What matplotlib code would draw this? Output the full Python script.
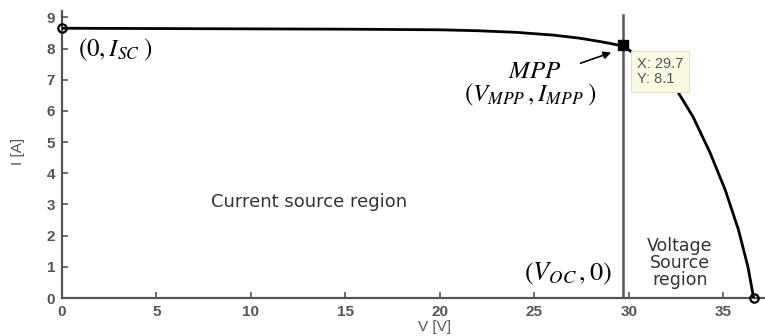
import matplotlib
matplotlib.use("Agg")
import matplotlib.pyplot as plt

# Data
V = [0, 5, 10, 15, 20, 22, 24, 26, 27.4, 28.5, 29.7, 30.6, 31.6, 32.6, 33.4, 34.3, 35.1, 35.8, 36.3, 36.6]
I = [8.65, 8.64, 8.63, 8.62, 8.6, 8.57, 8.52, 8.43, 8.33, 8.22, 8.08, 7.7, 7.2, 6.6, 5.8, 4.65, 3.46, 2.18, 0.99, 0.0]
V_mpp, I_mpp = 29.7, 8.1
I_sc = 8.65
V_oc = 36.6
xticks = [0, 5, 10, 15, 20, 25, 30, 35]
yticks = [0, 1, 2, 3, 4, 5, 6, 7, 8, 9]

plt.rcParams['mathtext.fontset'] = 'stix'
plt.rcParams['font.family'] = ['Liberation Sans', 'DejaVu Sans']

fig = plt.figure(figsize=(7.65, 3.36), dpi=100)
ax = fig.add_axes([0.081, 0.113, 0.919, 0.854])

ax.plot(V, I, color='black', lw=2.0, zorder=3)
ax.plot([0], [I_sc], 'o', ms=6, mfc='none', mec='black', mew=1.6, zorder=4, clip_on=False)
ax.plot([V_oc], [0], 'o', ms=6, mfc='none', mec='black', mew=1.6, zorder=4, clip_on=False)
ax.plot([V_mpp, V_mpp], [0, 9.07], color='#555555', lw=1.8, zorder=2)
ax.plot([V_mpp], [I_mpp], 's', ms=7.5, color='black', zorder=5)

ax.set_xlim(0, 37.2)
ax.set_ylim(0, 9.2)
ax.set_xticks(xticks)
ax.set_yticks(yticks)
ax.tick_params(direction='in', length=4, width=1.2, colors='#555555', labelsize=11, pad=5)
for lbl in ax.get_xticklabels() + ax.get_yticklabels():
    lbl.set_fontweight('bold')
    lbl.set_color('#555555')
for s in ['top', 'right']:
    ax.spines[s].set_visible(False)
for s in ['left', 'bottom']:
    ax.spines[s].set_color('#555555')
    ax.spines[s].set_linewidth(1.6)

ax.set_xlabel('V [V]', fontsize=11, color='#555555')
ax.xaxis.set_label_coords(19.7 / 37.2, -0.075)
ax.set_ylabel('I [A]', fontsize=11, color='#555555')
ax.yaxis.set_label_coords(-0.052, 4.7 / 9.2)

# Annotations
ax.text(0.85, 7.95, r'$(0, I_{SC}\;)$', fontsize=18, va='center', ha='left')
ax.text(25.0, 7.28, r'$MPP$', fontsize=18, va='center', ha='center')
ax.text(24.8, 6.5, r'$(V_{MPP}\,, I_{MPP}\;)$', fontsize=18, va='center', ha='center')
ax.annotate('', xy=(29.2, 7.9), xytext=(27.3, 7.5),
            arrowprops=dict(arrowstyle='-|>', color='black', lw=1.2, mutation_scale=11))
ax.text(26.75, 0.78, r'$(V_{OC}\,, 0)$', fontsize=19, va='center', ha='center')

ax.text(13.1, 3.08, 'Current source region', fontsize=13, fontfamily='DejaVu Sans',
        color='#333333', va='center', ha='center')
ax.text(32.7, 1.12, 'Voltage\nSource\nregion', fontsize=12.5, fontfamily='DejaVu Sans',
        color='#333333', va='center', ha='center', linespacing=0.95)

ax.text(30.42, 7.72, 'X: 29.7\nY: 8.1', fontsize=10.5, color='#555555', va='top', ha='left',
        linespacing=1.1,
        bbox=dict(boxstyle='square,pad=0.4', fc='#fbfbe3', ec='#e0e0cc', lw=0.8))

fig.savefig('out.png', dpi=100)
